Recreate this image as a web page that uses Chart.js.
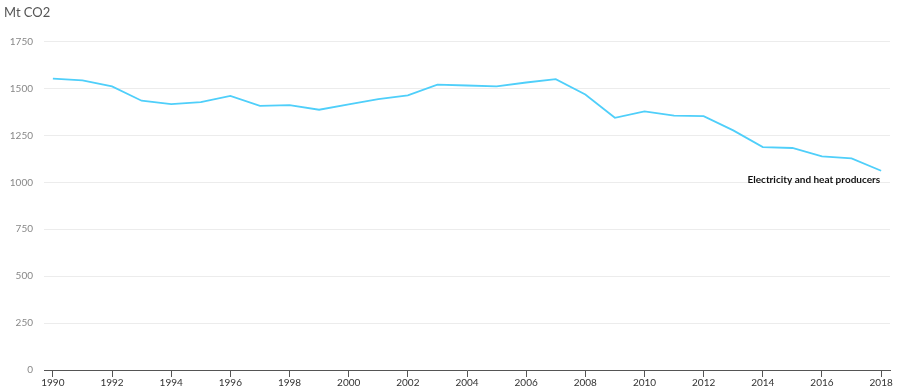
<!DOCTYPE html>
<html><head><meta charset="utf-8">
<script src="https://cdn.jsdelivr.net/npm/chart.js@4/dist/chart.umd.min.js"></script>
<style>html,body{margin:0;padding:0;background:#fff}#wrap{width:897px;height:392px}</style>
</head><body><div id="wrap"><canvas id="c" width="897" height="392"></canvas></div>
<script>
const years = [1990,1991,1992,1993,1994,1995,1996,1997,1998,1999,2000,2001,2002,2003,2004,2005,2006,2007,2008,2009,2010,2011,2012,2013,2014,2015,2016,2017,2018];
const electricityHeat = [1553,1543,1511,1435,1417,1427,1461,1408,1411,1387,1415,1443,1463,1521,1516,1511,1532,1550,1468,1344,1378,1355,1353,1277,1188,1183,1138,1128,1062];
const xTickYears = [1990,1992,1994,1996,1998,2000,2002,2004,2006,2008,2010,2012,2014,2016,2018];
const yTicks = [0,250,500,750,1000,1250,1500,1750];
const seriesName = 'Electricity and heat producers';
const unitLabel = 'Mt CO2';

const FONT = 'Lato, "Liberation Sans", sans-serif';

const endLabel = {
  id: 'endLabel',
  afterDatasetsDraw(chart) {
    const meta = chart.getDatasetMeta(0);
    const last = meta.data[meta.data.length - 1];
    const ctx = chart.ctx;
    ctx.save();
    ctx.font = 'bold 10px ' + FONT;
    ctx.fillStyle = '#111';
    ctx.textAlign = 'right';
    ctx.textBaseline = 'middle';
    ctx.fillText(seriesName, last.x - 1, last.y + 9);
    ctx.restore();
  }
};

new Chart(document.getElementById('c'), {
  type: 'line',
  data: {
    datasets: [{
      label: seriesName,
      data: years.map((y, i) => ({x: y, y: electricityHeat[i]})),
      borderColor: '#4fcffa',
      borderWidth: 1.8,
      pointRadius: 0,
      tension: 0,
      fill: false
    }]
  },
  options: {
    responsive: false,
    animation: false,
    layout: {padding: {left: 4, right: 7, top: 0, bottom: 0}},
    plugins: {
      legend: {display: false},
      tooltip: {enabled: false},
      title: {
        display: true,
        text: unitLabel,
        align: 'start',
        color: '#555',
        font: {family: FONT, size: 13, weight: 'normal'},
        padding: {top: 5, bottom: 21}
      }
    },
    scales: {
      x: {
        type: 'linear',
        min: 1989.7,
        max: 2018.3,
        afterBuildTicks: s => { s.ticks = xTickYears.map(v => ({value: v})); },
        afterFit: s => { s.height = 22; },
        border: {display: true, color: '#555', width: 1},
        grid: {display: true, drawOnChartArea: false, drawTicks: true, tickLength: 7, color: '#555'},
        ticks: {
          autoSkip: false, maxRotation: 0, padding: 0,
          color: '#333',
          font: {family: FONT, size: 10},
          callback: v => String(v)
        }
      },
      y: {
        min: 0,
        max: 1750,
        afterBuildTicks: s => { s.ticks = yTicks.map(v => ({value: v})); },
        afterFit: s => { s.width = 40; },
        border: {display: false},
        grid: {color: '#ececec', drawTicks: false, lineWidth: 1},
        ticks: {
          padding: 11,
          color: '#888',
          font: {family: FONT, size: 10},
          callback: v => String(v)
        }
      }
    }
  },
  plugins: [endLabel]
});
</script>
</body></html>
